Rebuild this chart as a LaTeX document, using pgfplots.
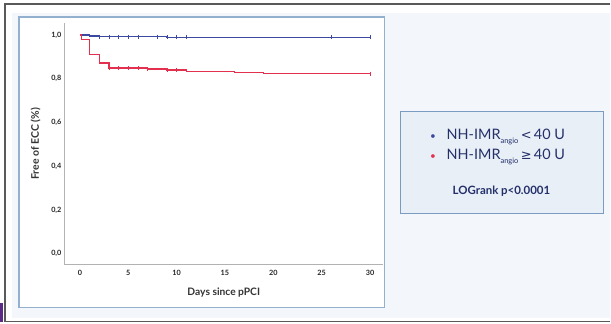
\documentclass[border=0pt]{standalone}
\usepackage{pgfplots}
\pgfplotsset{compat=1.18}
\usepackage{fontspec}
\setmainfont{Lato}
\newfontfamily\sym{DejaVu Sans}
\definecolor{kmblue}{HTML}{3B4AA0}
\definecolor{kmred}{HTML}{E3304E}
\definecolor{panelbg}{HTML}{F3F7FB}
\definecolor{framebl}{HTML}{94B0CF}
\definecolor{legfill}{HTML}{E9EFF7}
\definecolor{legedge}{HTML}{7B9CC0}
\definecolor{navy}{HTML}{23306A}
\definecolor{purp}{HTML}{5B2A86}
\begin{document}
\begin{tikzpicture}[x=1bp,y=1bp]
\fill[white] (0,0) rectangle (611,324);
\fill[panelbg] (12,6) rectangle (611,311);
\draw[black!65,line width=1.4bp] (611,320)--(5,320)--(5,2)--(611,2);
\fill[purp] (0,2) rectangle (3.5,21);
\draw[framebl,fill=white,line width=1.3bp] (19,16) rectangle (385,307);
\begin{axis}[
  at={(65bp,59bp)}, anchor=south west,
  scale only axis, width=318bp, height=242bp,
  xmin=-1.55, xmax=31.3, ymin=-0.0502, ymax=1.0548,
  axis x line*=bottom, axis y line*=left,
  axis line style={-, draw=black!30, line width=1bp},
  major tick length=0pt,
  xtick={0,5,...,30}, ytick={0,0.2,...,1.0},
  yticklabel style={/pgf/number format/use comma, /pgf/number format/fixed, /pgf/number format/fixed zerofill, /pgf/number format/precision=1},
  tick label style={font=\fontsize{7.3}{8}\selectfont\bfseries, text=black!85},
  xticklabel style={yshift=-2bp},
  /pgf/number format/assume math mode=true,
  xlabel={Days since pPCI},
  ylabel={Free of ECC (\%)},
  every axis x label/.style={at={(axis description cs:0.5,0)}, anchor=center, yshift=-28bp, font=\fontsize{10.3}{11}\selectfont\bfseries, text=black!80},
  every axis y label/.style={at={(axis description cs:-0.092,0.5)}, anchor=center, rotate=90, font=\fontsize{10.5}{12}\selectfont\bfseries, text=black!80},
  clip=false,
]
\addplot[const plot, color=kmblue, line width=1.5bp] coordinates {(0,1.0)(1,0.996)(2,0.992)(9,0.989)(30,0.989)};
\addplot[only marks, mark=|, mark size=2bp, color=kmblue, mark options={line width=0.7bp}] coordinates {(2,0.992)(3,0.992)(4,0.992)(5,0.992)(6,0.992)(8,0.992)(9,0.989)(10,0.989)(11,0.989)(26,0.989)(30,0.989)};
\addplot[const plot, color=kmred, line width=1.5bp] coordinates {(0,1.0)(0.15,0.98)(1,0.91)(2,0.872)(3,0.85)(7,0.844)(9,0.839)(11,0.834)(16,0.829)(19,0.823)(30,0.823)};
\addplot[only marks, mark=|, mark size=2bp, color=kmred, mark options={line width=0.7bp}] coordinates {(3,0.85)(4,0.85)(5,0.85)(6,0.85)(7,0.844)(9,0.839)(10,0.839)(30,0.823)};
\end{axis}
\draw[legedge,fill=legfill,line width=1bp] (401,110) rectangle (604,212);
\node[anchor=west,text=kmblue,font=\fontsize{10}{10}\selectfont] at (427,187) {•};
\node[anchor=west,text=kmred,font=\fontsize{10}{10}\selectfont] at (427,167) {•};
\node[anchor=west,text=navy,font=\fontsize{14.5}{16}\selectfont,inner sep=0pt] at (447,187) {NH-IMR\raisebox{-0.45ex}{\fontsize{7.5}{8}\selectfont angio}\,{\sym\fontsize{13}{14}\selectfont <}\,40 U};
\node[anchor=west,text=navy,font=\fontsize{14.5}{16}\selectfont,inner sep=0pt] at (447,167) {NH-IMR\raisebox{-0.45ex}{\fontsize{7.5}{8}\selectfont angio}\,{\sym\fontsize{13}{14}\selectfont ≥}\,40 U};
\node[anchor=center,text=navy,font=\fontsize{11.5}{13}\selectfont\bfseries] at (502,133) {LOGrank p<0.0001};
\end{tikzpicture}
\end{document}
